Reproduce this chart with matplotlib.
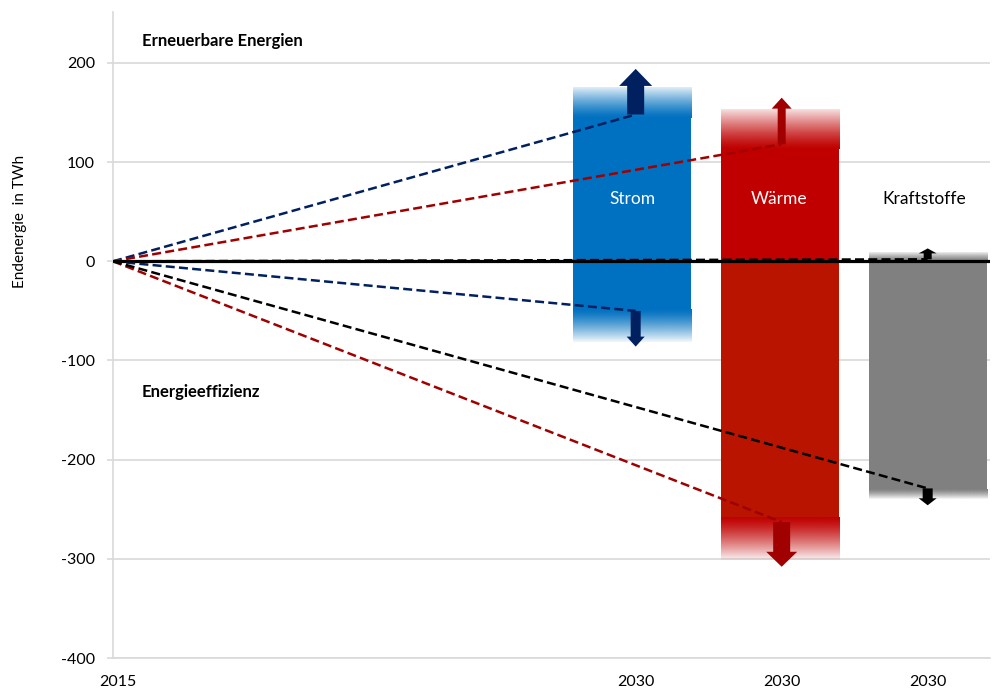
import numpy as np
import matplotlib
matplotlib.use("Agg")
import matplotlib.pyplot as plt
from matplotlib.patches import FancyArrow, Rectangle
from matplotlib.transforms import ScaledTranslation

plt.rcParams['font.family'] = ['Lato', 'DejaVu Sans']

# ---------------- data ----------------
categories = ["Strom", "Wärme", "Kraftstoffe"]
x_labels = ["2015", "2030", "2030", "2030"]
start_value = 0
# renewables (upper part)
re_solid_top = [145, 113, 0]
re_fade_top = [176, 153, 9]
re_line_end = [148, 118, 2]
re_arrow_tip = [194, 165, 13]
# efficiency (lower part)
eff_solid_bottom = [-48, -258, -230]
eff_fade_bottom = [-81, -301, -240]
eff_line_end = [-50, -263, -229]
eff_arrow_tip = [-86, -308, -246]
y_ticks = [200, 100, 0, -100, -200, -300, -400]

# ---------------- style ----------------
x_start = 0.0
x_pos = [3.58, 4.58, 5.58]
bar_shift_px = [-4, -2, 0]
bar_w = 0.81
bar_up_colors = ["#0070C0", "#C00000", "#808080"]
bar_dn_colors = ["#0070C0", "#B91400", "#808080"]
line_colors = ["#002060", "#A00000", "#000000"]
arrow_colors = ["#002060", "#A00000", "#000000"]
px_x = 146.0     # px per x unit
px_y = 0.9917    # px per y unit
up_arrow_px = [(17, 33, 17), (8, 20, 11), (8, 18, 5)]    # shaft, head width, head length
dn_arrow_px = [(10, 18, 10), (17, 31, 15), (10, 18, 7)]
fade_end_alpha = 0.12

fig = plt.figure(figsize=(9.92, 6.91), dpi=100)
ax = fig.add_axes([113/992, 1-658/691, (990-113)/992, (658-12)/691])
ax.set_xlim(0, (990-113)/px_x)
ax.set_ylim(-400, (261.3-12)/px_y)


def fade(x0, x1, y_solid, y_end, color, top_alpha=fade_end_alpha):
    rgb = np.array(matplotlib.colors.to_rgb(color))
    n = 200
    img = np.zeros((n, 1, 4))
    img[:, 0, :3] = rgb
    t = np.linspace(0, 1, n)
    a = 1 - (1 - top_alpha) * t ** 1.3
    if y_end < y_solid:
        a = a[::-1]
    img[:, 0, 3] = a
    ax.imshow(img, extent=[x0, x1, min(y_solid, y_end), max(y_solid, y_end)],
              origin='lower', aspect='auto', interpolation='bilinear', zorder=2)


for i, xc in enumerate(x_pos):
    xb = xc + bar_shift_px[i] / px_x
    x0, x1 = xb - bar_w/2, xb + bar_w/2
    if re_solid_top[i] > 0:
        ax.add_patch(Rectangle((x0, 0), bar_w, re_solid_top[i], color=bar_up_colors[i], lw=0, zorder=2))
    ax.add_patch(Rectangle((x0, eff_solid_bottom[i]), bar_w, -eff_solid_bottom[i],
                           color=bar_dn_colors[i], lw=0, zorder=2))
    fade(x0, x1, re_solid_top[i], re_fade_top[i], bar_up_colors[i])
    fade(x0, x1, eff_solid_bottom[i], eff_fade_bottom[i], bar_up_colors[i], 0.05)

# grid
for yv in y_ticks:
    if yv != 0:
        ax.axhline(yv, color="#D9D9D9", lw=1.2, zorder=1)

# zero line
ax.plot([x_start, ax.get_xlim()[1]], [start_value, start_value], color="black", lw=2.3, zorder=3,
        solid_capstyle='butt')

# dashed lines
for i, xc in enumerate(x_pos):
    for yend in (re_line_end[i], eff_line_end[i]):
        ax.plot([x_start, xc], [start_value, yend], color=line_colors[i], lw=1.8,
                dashes=(3.6, 1.7), zorder=4)

# arrows
for i, xc in enumerate(x_pos):
    for (y0, y1, dims) in ((re_line_end[i], re_arrow_tip[i], up_arrow_px[i]),
                           (eff_line_end[i], eff_arrow_tip[i], dn_arrow_px[i])):
        sw, hw, hl = dims
        ax.add_patch(FancyArrow(xc, y0, 0, y1 - y0, width=sw/px_x, head_width=hw/px_x,
                                head_length=hl/px_y, length_includes_head=True,
                                color=arrow_colors[i], lw=0, zorder=5))

# texts
ax.text(0.197, 222, "Erneuerbare Energien", fontsize=12, fontweight='bold', ha='left', va='center', zorder=6)
ax.text(0.197, -132, "Energieeffizienz", fontsize=12, fontweight='bold', ha='left', va='center', zorder=6)
label_colors = ["white", "white", "black"]
for i, xc in enumerate(x_pos):
    ax.text(xc - 3/px_x, 63, categories[i], color=label_colors[i], fontsize=12.5, ha='center', va='center', zorder=6)

fig.text(20/992, 1-221/691, "Endenergie  in TWh", rotation=90, ha='center', va='center', fontsize=11)

# axes styling
for s in ("top", "right"):
    ax.spines[s].set_visible(False)
ax.spines["left"].set_color("#D9D9D9")
ax.spines["left"].set_linewidth(1.2)
ax.spines["bottom"].set_color("#D9D9D9")
ax.spines["bottom"].set_linewidth(1.2)
ax.set_yticks(y_ticks)
ax.set_yticklabels([str(v) for v in y_ticks], fontsize=11.5)
ax.tick_params(axis='y', length=4.3, color="#D9D9D9", width=1.2, pad=8.6)
ax.set_xticks([x_start] + x_pos)
ax.set_xticklabels(x_labels, fontsize=11.5)
ax.tick_params(axis='x', length=0, pad=12)
lbl = ax.get_xticklabels()[0]
lbl.set_transform(lbl.get_transform() + ScaledTranslation(5/100, 0, fig.dpi_scale_trans))

fig.savefig("out.png", dpi=100)
